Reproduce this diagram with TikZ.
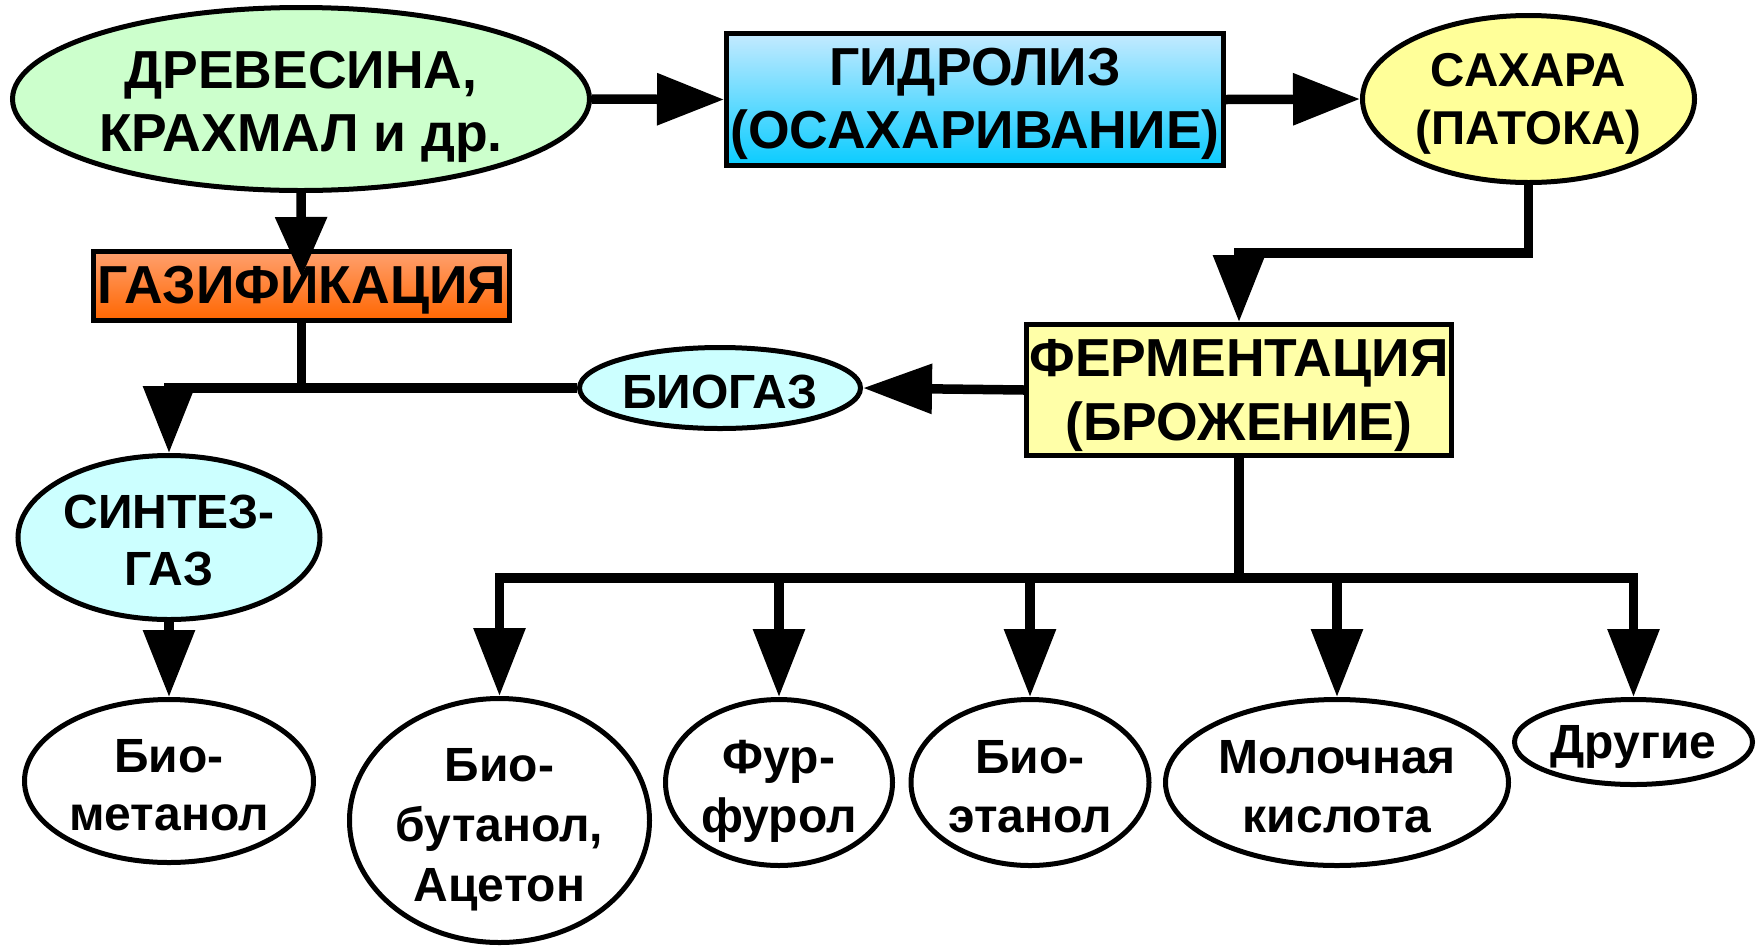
\documentclass[tikz,border=0pt]{standalone}
\usepackage{fontspec}
\setmainfont{Liberation Sans}
\usetikzlibrary{shapes.geometric,arrows.meta}
\definecolor{drevc}{RGB}{204,255,204}
\definecolor{gidrtop}{RGB}{196,234,255}
\definecolor{gidrbot}{RGB}{10,204,255}
\definecolor{gaztop}{RGB}{255,160,110}
\definecolor{gazbot}{RGB}{255,102,0}
\definecolor{sahc}{RGB}{255,255,153}
\definecolor{fermc}{RGB}{255,255,168}
\definecolor{gasc}{RGB}{204,255,255}
\newcommand{\hs}[1]{\vrule height 1.08em depth #1 width 0pt}
\newcommand{\topst}{\vrule height 1.08em depth 0pt width 0pt}
\newcommand{\botd}[1]{\vrule height 0pt depth #1 width 0pt}
\begin{document}
\begin{tikzpicture}[x=1pt,y=-1pt,
  every node/.style={align=center, inner sep=0pt, line width=5pt},
  ell/.style={ellipse, draw=black, inner sep=-15pt},
  box/.style={rectangle, draw=black, inner xsep=0pt, inner ysep=-12pt},
  bigtxt/.style={font=\bfseries\fontsize{53.5}{63}\selectfont},
  midtxt/.style={font=\bfseries\fontsize{48}{57}\selectfont},
  smltxt/.style={font=\bfseries\fontsize{48}{59}\selectfont},
  conn/.style={line width=9.5pt, line join=miter},
  arr/.style={conn, -{Triangle[length=67pt,width=50pt]}},
]
\useasboundingbox (0,0) rectangle (1761,946);

% top row
\node[ell, fill=drevc, minimum width=577pt, minimum height=183pt, bigtxt] (drev) at (301,99) {\topst ДРЕВЕСИНА,\\КРАХМАЛ и др.\botd{0.3em}};
\node[box, top color=gidrtop, bottom color=gidrbot, draw=black, minimum width=497pt, minimum height=132pt, bigtxt] (gidr) at (975,99.5) {\topst ГИДРОЛИЗ\\(ОСАХАРИВАНИЕ)\botd{0.42em}};
\node[ell, fill=sahc, minimum width=332pt, minimum height=167pt, font=\bfseries\fontsize{47.5}{58}\selectfont] (sah) at (1528.5,99) {\topst САХАРА\\(ПАТОКА)\botd{0.4em}};

% middle
\node[box, top color=gaztop, bottom color=gazbot, draw=black, minimum width=416pt, minimum height=69pt, inner xsep=-10pt, bigtxt] (gaz) at (301.5,286) {\hs{0.42em}ГАЗИФИКАЦИЯ};
\node[box, fill=fermc, minimum width=425pt, minimum height=131pt, font=\bfseries\fontsize{53.5}{64}\selectfont] (ferm) at (1239,390) {\topst ФЕРМЕНТАЦИЯ\\(БРОЖЕНИЕ)\botd{0.4em}};
\node[ell, fill=gasc, minimum width=281pt, minimum height=81pt, midtxt] (bio) at (720,388) {\hs{0.22em}БИОГАЗ};
\node[ell, fill=gasc, minimum width=302pt, minimum height=164pt, midtxt] (sint) at (169,537.5) {\topst СИНТЕЗ-\\ГАЗ\botd{0.25em}};

% bottom row
\node[ell, fill=white, minimum width=289pt, minimum height=163pt, font=\bfseries\fontsize{48}{58}\selectfont] (bmet) at (169,781) {\topst Био-\\метанол\botd{0.22em}};
\node[ell, fill=white, minimum width=300pt, minimum height=244pt, font=\bfseries\fontsize{48}{60}\selectfont] (bbut) at (499.5,820.5) {\topst Био-\\бутанол,\\Ацетон\botd{0.22em}};
\node[ell, fill=white, minimum width=227pt, minimum height=166pt, smltxt] (fur) at (779,782.5) {\topst Фур-\\фурол\botd{0.22em}};
\node[ell, fill=white, minimum width=238pt, minimum height=166pt, smltxt] (beth) at (1030,782.5) {\topst Био-\\этанол\botd{0.22em}};
\node[ell, fill=white, minimum width=343pt, minimum height=166pt, smltxt] (mol) at (1337,782.5) {\topst Молочная\\кислота\botd{0.22em}};
\node[ell, fill=white, minimum width=238pt, minimum height=85pt, smltxt] (oth) at (1633.5,742) {\hs{0.4em}Другие};

% helper coordinates
\coordinate (bend) at (0,253);
\coordinate (fan) at (0,578);

% connectors
\draw[arr] (drev.east) -- (gidr.west);
\draw[arr] (gidr.east) -- (sah.west);
\draw[arr] (sah.south) |- (ferm.north |- bend) -- (ferm.north);
\draw[conn, -{Triangle[length=60pt,width=50pt]}] (drev.south) -- ([yshift=-28pt]gaz.north);
\draw[arr, -{Triangle[length=69pt,width=48pt]}] (ferm.west) -- (bio.east);
\draw[conn] (gaz.south) -- (gaz.south |- bio.west);
\draw[arr] (bio.west) -| (sint.north);
\draw[arr] (sint.south) -- (bmet.north);

\draw[conn] (ferm.south) -- (ferm.south |- fan);
\draw[conn, line cap=rect] (bbut.north |- fan) -- (oth.north |- fan);
\foreach \n in {bbut,fur,beth,mol,oth}
  \draw[arr, -{Triangle[length=68pt,width=50pt]}] (\n.north |- fan) -- (\n.north);
\end{tikzpicture}
\end{document}
